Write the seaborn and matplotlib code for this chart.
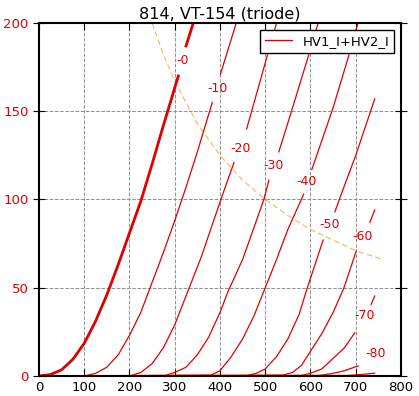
import matplotlib
matplotlib.use('Agg')
import matplotlib.pyplot as plt
from matplotlib.lines import Line2D
import pandas as pd
import seaborn as sns

# plate voltage (V) and plate current (mA),
# each curve split in two where its grid label sits
g0_v = [0, 25, 50, 75, 100, 125, 150, 175, 200, 225, 250, 275, 308]
g0_i = [0, 0.8, 3.5, 9.5, 18.5, 31, 46, 63, 81, 99, 120, 142, 170]
g0_v2 = [325, 341]
g0_i2 = [187, 200]

g10_v = [0, 100, 125, 150, 175, 200, 225, 250, 275, 300, 325, 350, 383]
g10_i = [0, 0, 1.5, 5, 12, 23, 36, 53, 70, 88, 107, 127, 155]
g10_v2 = [401, 436]
g10_i2 = [171, 200]

g20_v = [0, 200, 225, 250, 275, 300, 329, 358, 402, 431]
g20_i = [0, 0, 2, 7, 16, 29, 48, 67, 100, 121]
g20_v2 = [459, 504, 525]
g20_i2 = [140, 181, 200]

g30_v = [0, 275, 300, 325, 350, 375, 400, 418, 450, 497, 508]
g30_i = [0, 0, 2, 5, 12, 22, 36, 48, 66, 100, 111]
g30_v2 = [530, 552, 595, 617]
g30_i2 = [127, 145, 181, 200]

g40_v = [0, 380, 400, 425, 450, 475, 500, 525, 550, 585]
g40_i = [0, 0.5, 3, 11, 21, 34, 50, 66, 83, 103]
g40_v2 = [603, 650, 684, 705]
g40_i2 = [117, 152, 181, 200]

g50_v = [0, 460, 480, 500, 525, 550, 575, 593, 628]
g50_i = [0, 0.3, 1.5, 4, 11, 21, 35, 50, 77]
g50_v2 = [654, 668, 700, 742]
g50_i2 = [93, 103, 125, 157]

g60_v = [0, 540, 560, 580, 600, 625, 650, 674, 701]
g60_i = [0, 0.5, 2, 6, 14, 24, 36, 50, 70.7]
g60_v2 = [731, 742]
g60_i2 = [87, 94]

g70_v = [0, 580, 600, 625, 650, 675, 698]
g70_i = [0, 0.3, 1.5, 4, 10, 16, 24.5]
g70_v2 = [734, 742]
g70_i2 = [40.6, 45.3]

g80_v = [0, 620, 650, 675, 705]
g80_i = [0, 0.3, 1.5, 3, 5.7]

g90_v = [0, 680, 710, 742]
g90_i = [0, 0.3, 0.8, 1.6]

# 50 W dissipation limit
pd_v = [250, 275, 300, 350, 400, 450, 500, 550, 600, 650, 700, 760]
pd_i = [200, 182, 167, 143, 125, 111, 100, 91, 83, 77, 71, 66]

lab_txt = ['-0', '-10', '-20', '-30', '-40', '-50', '-60', '-70', '-80']
lab_v = [317, 394, 446, 519, 592, 643, 716, 720, 745]
lab_i = [179, 163, 129, 119, 110, 86, 79, 34, 13]

segments = [
    ('-0', g0_v, g0_i), ('-0', g0_v2, g0_i2),
    ('-10', g10_v, g10_i), ('-10', g10_v2, g10_i2),
    ('-20', g20_v, g20_i), ('-20', g20_v2, g20_i2),
    ('-30', g30_v, g30_i), ('-30', g30_v2, g30_i2),
    ('-40', g40_v, g40_i), ('-40', g40_v2, g40_i2),
    ('-50', g50_v, g50_i), ('-50', g50_v2, g50_i2),
    ('-60', g60_v, g60_i), ('-60', g60_v2, g60_i2),
    ('-70', g70_v, g70_i), ('-70', g70_v2, g70_i2),
    ('-80', g80_v, g80_i),
    ('-90', g90_v, g90_i),
]

rows = []
for n, (grid, vs, cs) in enumerate(segments):
    for v, c in zip(vs, cs):
        rows.append({'V': v, 'I': c, 'grid': grid, 'seg': n})
df = pd.DataFrame(rows)
pdf = pd.DataFrame({'V': pd_v, 'I': pd_i})

red = '#e00000'

fig = plt.figure(figsize=(4.19, 3.96), dpi=100)
ax = fig.add_axes([0.093, 0.0505, 0.864, 0.8915])

ax.grid(True, color='#909090', ls='--', lw=0.7)
ax.set_axisbelow(True)

sns.lineplot(data=pdf, x='V', y='I', color='#f0b860', lw=0.8,
             dashes=False, ls=(0, (5, 3)), sort=False, ax=ax)
sns.lineplot(data=df[df['grid'] != '-0'], x='V', y='I', units='seg',
             estimator=None, color=red, lw=0.9, sort=False, ax=ax)
sns.lineplot(data=df[df['grid'] == '-0'], x='V', y='I', units='seg',
             estimator=None, color=red, lw=2.0, sort=False, ax=ax)

for t, v, c in zip(lab_txt, lab_v, lab_i):
    ax.text(v, c, t, color=red, fontsize=9, ha='center', va='center')

ax.set_xlim(0, 800)
ax.set_ylim(0, 200)
ax.set_xticks(range(0, 801, 100))
ax.set_yticks(range(0, 201, 50))
ax.set_xlabel('')
ax.set_ylabel('')
ax.tick_params(axis='x', direction='in', top=True, length=5, labelsize=9.5)
ax.tick_params(axis='y', direction='inout', right=True, length=8,
               labelsize=9.5, labelcolor=red)
for s in ax.spines.values():
    s.set_linewidth(1.5)

leg = ax.legend([Line2D([0], [0], color=red, lw=0.9)], ['HV1_I+HV2_I'],
                loc='upper right', fancybox=False, framealpha=1,
                edgecolor='black', fontsize=9.5)
leg.get_frame().set_linewidth(1.0)

ax.set_title('814, VT-154 (triode)', fontsize=11.5, pad=3)

fig.savefig('out.png', dpi=100)
